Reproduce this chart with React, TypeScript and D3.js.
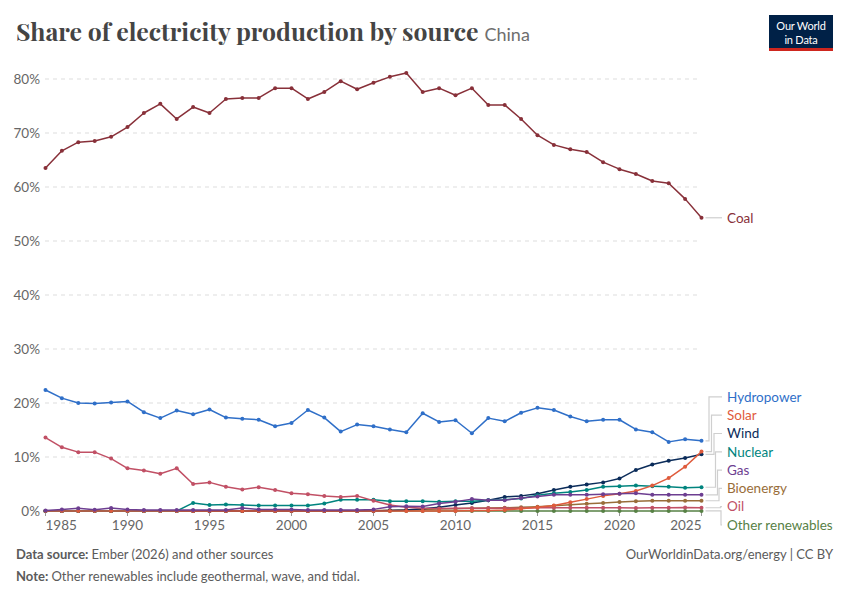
import { useEffect, useRef } from 'react';
import * as d3 from 'd3';

const years = [
  1985, 1986, 1987, 1988, 1989, 1990, 1991, 1992, 1993, 1994, 1995, 1996, 1997, 1998,
  1999, 2000, 2001, 2002, 2003, 2004, 2005, 2006, 2007, 2008, 2009, 2010, 2011, 2012,
  2013, 2014, 2015, 2016, 2017, 2018, 2019, 2020, 2021, 2022, 2023, 2024, 2025,
];

// share of electricity production, %
const coal = [
  63.5, 66.7, 68.3, 68.5, 69.3, 71.1, 73.7, 75.4, 72.6, 74.8, 73.7, 76.3, 76.5, 76.5,
  78.3, 78.3, 76.3, 77.6, 79.6, 78.1, 79.3, 80.4, 81.1, 77.6, 78.3, 77.0, 78.3, 75.2,
  75.2, 72.6, 69.6, 67.8, 67.0, 66.5, 64.6, 63.3, 62.4, 61.1, 60.7, 57.8, 54.3,
];
const hydropower = [
  22.4, 20.9, 20.0, 19.9, 20.1, 20.3, 18.3, 17.2, 18.6, 17.9, 18.8, 17.3, 17.1, 16.9,
  15.7, 16.3, 18.7, 17.3, 14.7, 16.0, 15.7, 15.1, 14.6, 18.1, 16.5, 16.8, 14.4, 17.2,
  16.6, 18.2, 19.1, 18.7, 17.5, 16.6, 16.9, 16.9, 15.1, 14.6, 12.8, 13.3, 13.0,
];
const solar = [
  0, 0, 0, 0, 0, 0, 0, 0, 0, 0, 0, 0, 0, 0,
  0, 0, 0, 0, 0, 0, 0, 0, 0, 0, 0, 0, 0.1, 0.1,
  0.2, 0.4, 0.7, 1.0, 1.6, 2.2, 2.8, 3.2, 3.7, 4.7, 6.1, 8.2, 11.0,
];
const wind = [
  0, 0, 0, 0, 0, 0, 0, 0, 0, 0, 0, 0, 0, 0,
  0, 0, 0, 0, 0, 0, 0, 0.1, 0.2, 0.4, 0.7, 1.1, 1.5, 2.0,
  2.6, 2.8, 3.2, 3.9, 4.5, 4.9, 5.3, 6.0, 7.6, 8.6, 9.3, 9.8, 10.5,
];
const nuclear = [
  0, 0, 0, 0, 0, 0, 0, 0, 0, 1.5, 1.1, 1.2, 1.1, 1.0,
  1.0, 1.0, 1.0, 1.4, 2.1, 2.1, 2.1, 1.8, 1.8, 1.8, 1.7, 1.8, 1.8, 2.0,
  2.1, 2.3, 2.9, 3.3, 3.5, 3.9, 4.5, 4.6, 4.7, 4.6, 4.5, 4.3, 4.4,
];
const gas = [
  0.1, 0.3, 0.5, 0.25, 0.55, 0.3, 0.2, 0.2, 0.2, 0.2, 0.2, 0.2, 0.55, 0.3,
  0.3, 0.3, 0.2, 0.2, 0.2, 0.2, 0.3, 0.8, 0.9, 0.85, 1.4, 1.7, 2.2, 2.0,
  2.0, 2.4, 2.7, 3.0, 3.0, 3.0, 3.1, 3.2, 3.3, 3.0, 3.0, 3.0, 3.0,
];
const bioenergy = [
  0, 0, 0, 0, 0, 0, 0, 0, 0, 0, 0, 0, 0, 0,
  0, 0, 0, 0, 0, 0, 0.1, 0.15, 0.2, 0.3, 0.35, 0.4, 0.5, 0.55,
  0.6, 0.7, 0.8, 0.95, 1.15, 1.35, 1.5, 1.65, 1.8, 1.9, 1.9, 1.9, 1.9,
];
const oil = [
  13.6, 11.8, 10.9, 10.9, 9.7, 7.9, 7.5, 6.9, 7.9, 5.0, 5.3, 4.5, 4.0, 4.4,
  3.9, 3.3, 3.1, 2.8, 2.6, 2.8, 1.9, 1.1, 0.7, 0.5, 0.45, 0.5, 0.5, 0.5,
  0.5, 0.5, 0.6, 0.6, 0.6, 0.6, 0.6, 0.6, 0.55, 0.6, 0.6, 0.65, 0.6,
];
const otherRenewables = [
  0, 0, 0, 0, 0, 0, 0, 0, 0, 0, 0, 0, 0, 0,
  0, 0, 0, 0, 0, 0, 0, 0, 0, 0, 0, 0.01, 0.01, 0.01,
  0.01, 0.01, 0.01, 0.01, 0.01, 0.01, 0.01, 0.01, 0.01, 0.01, 0.01, 0.01, 0.01,
];

const yTicks = [0, 10, 20, 30, 40, 50, 60, 70, 80];
const xTicks = [1985, 1990, 1995, 2000, 2005, 2010, 2015, 2020, 2025];

interface Series {
  name: string;
  color: string;
  values: number[];
  bend: number;
}

// drawing order, bottom first
const series: Series[] = [
  { name: 'Other renewables', color: '#578145', values: otherRenewables, bend: 721 },
  { name: 'Bioenergy', color: '#996d39', values: bioenergy, bend: 719 },
  { name: 'Wind', color: '#0b2c5a', values: wind, bend: 714 },
  { name: 'Nuclear', color: '#00847e', values: nuclear, bend: 715.5 },
  { name: 'Oil', color: '#c15065', values: oil, bend: 720.5 },
  { name: 'Solar', color: '#df5b3c', values: solar, bend: 711.5 },
  { name: 'Gas', color: '#6d3e91', values: gas, bend: 717.5 },
  { name: 'Hydropower', color: '#2f6fc8', values: hydropower, bend: 709 },
  { name: 'Coal', color: '#883039', values: coal, bend: 707 },
];

const FONT = 'Lato, "Noto Sans", sans-serif';

export default function App() {
  const svgRef = useRef<SVGSVGElement>(null);

  useEffect(() => {
    document.body.style.margin = '0';
    if (!svgRef.current) return;
    const svg = d3.select(svgRef.current);
    svg.selectAll('*').remove();

    const x = d3.scaleLinear().domain([1985, 2025]).range([45.5, 701.5]);
    const y = d3.scaleLinear().domain([0, 80]).range([511, 79]);

    // Title
    const title = svg.append('text')
      .attr('x', 16).attr('y', 41)
      .attr('fill', '#444')
      .attr('font-family', '"Playfair Display", "Liberation Serif", serif')
      .attr('font-weight', 700)
      .attr('font-size', 24.8)
      .text('Share of electricity production by source');
    const tw = (title.node() as SVGTextElement).getComputedTextLength();
    svg.append('text')
      .attr('x', 16 + tw + 6).attr('y', 41)
      .attr('fill', '#6e6e6e')
      .attr('font-family', FONT)
      .attr('font-size', 18)
      .text('China');

    // Logo
    const logo = svg.append('g').attr('transform', 'translate(769,15)');
    logo.append('rect').attr('width', 64).attr('height', 36).attr('fill', '#002147');
    logo.append('rect').attr('y', 33).attr('width', 64).attr('height', 3).attr('fill', '#ce261e');
    logo.append('text').attr('x', 32).attr('y', 15).attr('text-anchor', 'middle')
      .attr('fill', '#fff').attr('font-family', FONT).attr('font-size', 11)
      .attr('letter-spacing', '-0.2').text('Our World');
    logo.append('text').attr('x', 32).attr('y', 29).attr('text-anchor', 'middle')
      .attr('fill', '#fff').attr('font-family', FONT).attr('font-size', 11)
      .attr('letter-spacing', '-0.2').text('in Data');

    // Grid lines and y labels
    yTicks.forEach((t) => {
      if (t > 0) {
        svg.append('line')
          .attr('x1', 45).attr('x2', 701)
          .attr('y1', y(t)).attr('y2', y(t))
          .attr('stroke', '#dddddd').attr('stroke-dasharray', '4,4');
      }
      svg.append('text')
        .attr('x', 40).attr('y', y(t)).attr('dy', '0.35em')
        .attr('text-anchor', 'end')
        .attr('fill', '#666').attr('font-family', FONT).attr('font-size', 13.5)
        .text(`${t}%`);
    });

    // X ticks, labels kept inside the plot range
    xTicks.forEach((t) => {
      svg.append('line')
        .attr('x1', x(t)).attr('x2', x(t)).attr('y1', 511).attr('y2', 516)
        .attr('stroke', '#999');
      const label = svg.append('text')
        .attr('y', 530)
        .attr('text-anchor', 'middle')
        .attr('fill', '#666').attr('font-family', FONT).attr('font-size', 13.5)
        .text(String(t));
      const half = (label.node() as SVGTextElement).getComputedTextLength() / 2;
      const cx = Math.max(x(1985) + half, Math.min(x(2025) - half, x(t)));
      label.attr('x', cx);
    });

    // Lines
    const line = d3.line<number>()
      .x((_, i) => x(years[i]))
      .y((d) => y(d));

    series.forEach((s) => {
      svg.append('path')
        .attr('d', line(s.values))
        .attr('fill', 'none')
        .attr('stroke', s.color)
        .attr('stroke-width', 1.5)
        .attr('stroke-linejoin', 'round');
      svg.append('g')
        .selectAll('circle')
        .data(s.values)
        .join('circle')
        .attr('cx', (_, i) => x(years[i]))
        .attr('cy', (d) => y(d))
        .attr('r', 2)
        .attr('fill', s.color);
    });

    // Labels: coal on its own, the rest stacked from the bottom
    const last = years.length - 1;
    const stacked = series
      .filter((s) => s.name !== 'Coal')
      .sort((a, b) => b.values[last] - a.values[last]);
    const spacing = 18.3;
    const bottom = 525;
    const labels = [
      { s: series.find((s) => s.name === 'Coal') as Series, ly: y(coal[last]) },
      ...stacked.map((s, i) => ({ s, ly: bottom - (stacked.length - 1 - i) * spacing })),
    ];

    labels.forEach(({ s, ly }) => {
      const dy = y(s.values[last]);
      svg.append('path')
        .attr('d', `M${x(2025) + 4},${dy}H${s.bend}V${ly}H722`)
        .attr('fill', 'none')
        .attr('stroke', '#cfcfcf')
        .attr('stroke-width', 1.2);
      svg.append('text')
        .attr('x', 727).attr('y', ly).attr('dy', '0.35em')
        .attr('fill', s.color)
        .attr('font-family', FONT).attr('font-size', 13.5)
        .text(s.name);
    });

    // Footer
    const src = svg.append('text')
      .attr('x', 16).attr('y', 559)
      .attr('fill', '#5b5b5b').attr('font-family', FONT).attr('font-size', 13);
    src.append('tspan').attr('font-weight', 700).text('Data source: ');
    src.append('tspan').text('Ember (2026) and other sources');

    const note = svg.append('text')
      .attr('x', 16).attr('y', 581)
      .attr('fill', '#5b5b5b').attr('font-family', FONT).attr('font-size', 13);
    note.append('tspan').attr('font-weight', 700).text('Note: ');
    note.append('tspan').text('Other renewables include geothermal, wave, and tidal.');

    svg.append('text')
      .attr('x', 833).attr('y', 559)
      .attr('text-anchor', 'end')
      .attr('fill', '#5b5b5b').attr('font-family', FONT).attr('font-size', 13)
      .text('OurWorldinData.org/energy | CC BY');
  }, []);

  return (
    <svg
      ref={svgRef}
      width={850}
      height={600}
      style={{ display: 'block', background: '#fff' }}
    />
  );
}
